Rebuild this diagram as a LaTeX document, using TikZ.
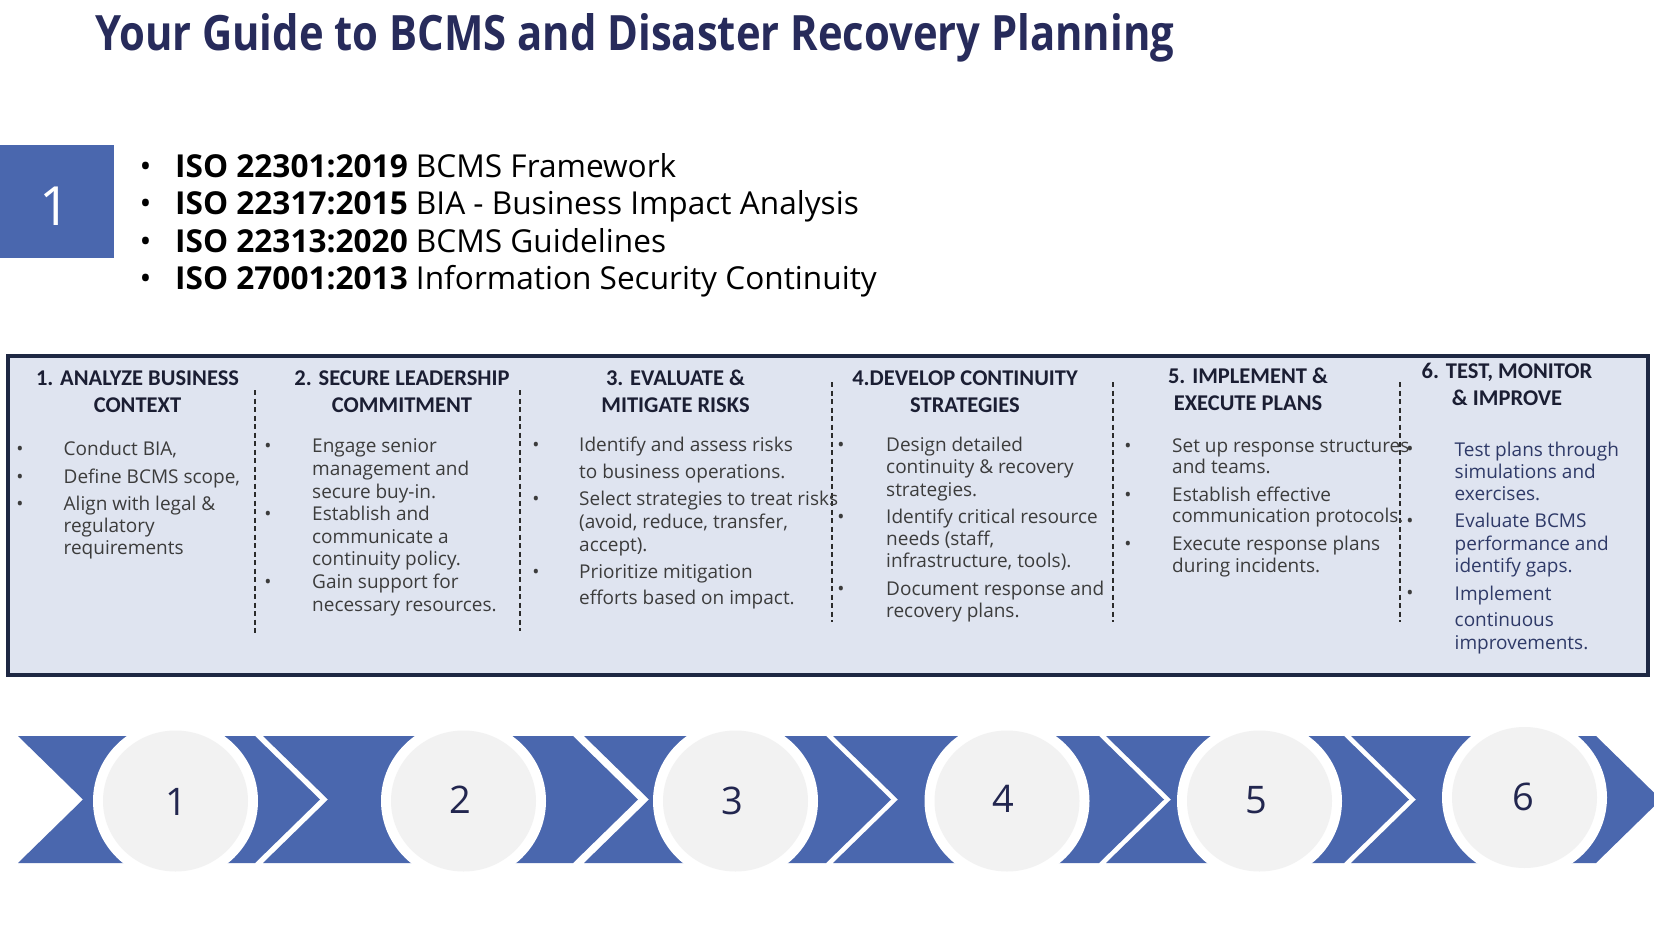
\documentclass[tikz,border=0pt]{standalone}
\usepackage{fontspec}
\usepackage{graphicx}
\setmainfont{Open Sans}
\newfontfamily\hdfont{Carlito}
\definecolor{navy}{HTML}{272B5B}
\definecolor{chev}{HTML}{4A67AE}
\definecolor{boxfill}{HTML}{DFE4F0}
\definecolor{boxline}{HTML}{1E2843}
\definecolor{bodytxt}{HTML}{3C3C3C}
\definecolor{colsix}{HTML}{2F3A68}
\definecolor{hdtxt}{HTML}{1B1E33}
\definecolor{circfill}{HTML}{F2F2F2}
\definecolor{digit}{HTML}{22264F}
\definecolor{divline}{HTML}{2B2B2B}
\tikzset{
  body/.style={anchor=base west, inner sep=0pt, font=\fontsize{19}{22}\selectfont, text=bodytxt},
  bul/.style={anchor=base, inner sep=0pt, font=\fontsize{19}{22}\selectfont, text=bodytxt},
  hd/.style={anchor=base, inner sep=0pt, align=center, font=\hdfont\bfseries\fontsize{22.5}{26.8}\selectfont, text=hdtxt},
  divider/.style={draw=divline, line width=1.8pt, dash pattern=on 5pt off 3.5pt},
  isoline/.style={anchor=base west, inner sep=0pt, font=\fontsize{31.6}{37}\selectfont, text=black},
  isobul/.style={anchor=base, inner sep=0pt, font=\fontsize{31.6}{37}\selectfont, text=black},
  chevron/.style={fill=chev},
  ring/.style={fill=white},
  disc/.style={fill=circfill},
  digitnode/.style={anchor=center, inner sep=0pt, font=\fontsize{38}{40}\selectfont, text=digit}
}
\begin{document}
\begin{tikzpicture}[x=1pt,y=-1pt]
\clip (0,0) rectangle (1654,931);
\fill[white] (0,0) rectangle (1654,931);

% title
\node[anchor=base west, inner sep=0pt, text=navy] (title) at (95,50.5)
  {\resizebox{1079pt}{\height}{\fontsize{48.7}{52}\selectfont\bfseries Your Guide to BCMS and Disaster Recovery Planning}};

% blue square
\fill[chev] (0,145) rectangle (114,258);
\node[anchor=center, inner sep=0pt, text=white, font=\fontsize{54}{56}\selectfont] (sq) at (55,206) {1};

% ISO list
\node[isobul] (ib1) at (145.6,177.5) {•};
\node[isoline] (i1) at (175,177.5) {\textbf{ISO 22301:2019} BCMS Framework};
\node[isobul] (ib2) at (145.6,214.5) {•};
\node[isoline] (i2) at (175,214.5) {\textbf{ISO 22317:2015} BIA - Business Impact Analysis};
\node[isobul] (ib3) at (145.6,252) {•};
\node[isoline] (i3) at (175,252) {\textbf{ISO 22313:2020} BCMS Guidelines};
\node[isobul] (ib4) at (145.6,289) {•};
\node[isoline] (i4) at (175,289) {\textbf{ISO 27001:2013} Information Security Continuity};

% main box
\draw[fill=boxfill, draw=boxline, line width=4pt] (7.5,355.5) rectangle (1647.5,675);

% dividers
\coordinate (d1a) at (255,390); \coordinate (d1b) at (255,633);
\coordinate (d2a) at (520,390); \coordinate (d2b) at (520,631);
\coordinate (d3a) at (832,382); \coordinate (d3b) at (832,622);
\coordinate (d4a) at (1113,382); \coordinate (d4b) at (1113,622);
\coordinate (d5a) at (1400,382); \coordinate (d5b) at (1400,622);
\draw[divider] (d1a) -- (d1b);
\draw[divider] (d2a) -- (d2b);
\draw[divider] (d3a) -- (d3b);
\draw[divider] (d4a) -- (d4b);
\draw[divider] (d5a) -- (d5b);

% headers (anchor = baseline of the last line)
\node[hd] (h1) at (137.5,412) {1. ANALYZE BUSINESS\\CONTEXT};
\node[hd] (h2) at (402,412) {2. SECURE LEADERSHIP\\COMMITMENT};
\node[hd] (h3) at (675.5,412) {3. EVALUATE \&\\MITIGATE RISKS};
\node[hd] (h4) at (965,412) {4.DEVELOP CONTINUITY\\STRATEGIES};
\node[hd] (h5) at (1248,410.5) {5. IMPLEMENT \&\\EXECUTE PLANS};
\node[hd] (h6) at (1507,405.5) {6. TEST, MONITOR\\\& IMPROVE};

% column 1
\node[bul] (b11) at (20,455) {•};
\node[bul] (b12) at (20,483) {•};
\node[bul] (b13) at (20,510) {•};
\node[body] (t11) at (63.5,455) {Conduct BIA,};
\node[body] (t12) at (63.5,483) {Define BCMS scope,};
\node[body] (t13) at (63.5,510) {Align with legal \&};
\node[body] (t14) at (63.5,532) {regulatory};
\node[body] (t15) at (63.5,554.5) {requirements};

% column 2
\node[bul] (b21) at (268,452) {•};
\node[bul] (b22) at (268,520.5) {•};
\node[bul] (b23) at (268,588) {•};
\node[body] (t21) at (312,452) {Engage senior};
\node[body] (t22) at (312,475) {management and};
\node[body] (t23) at (312,498) {secure buy-in.};
\node[body] (t24) at (312,520.5) {Establish and};
\node[body] (t25) at (312,543) {communicate a};
\node[body] (t26) at (312,565.5) {continuity policy.};
\node[body] (t27) at (312,588) {Gain support for};
\node[body] (t28) at (312,611) {necessary resources.};

% column 3
\node[bul] (b31) at (536,451.5) {•};
\node[bul] (b32) at (536,505) {•};
\node[bul] (b33) at (536,578) {•};
\node[body] (t31) at (579,451.5) {Identify and assess risks};
\node[body] (t32) at (579,478.5) {to business operations.};
\node[body] (t33) at (579,505) {Select strategies to treat risks};
\node[body] (t34) at (579,528.5) {(avoid, reduce, transfer,};
\node[body] (t35) at (579,551) {accept).};
\node[body] (t36) at (579,578) {Prioritize mitigation};
\node[body] (t37) at (579,604) {efforts based on impact.};

% column 4
\node[bul] (b41) at (841,451.5) {•};
\node[bul] (b42) at (841,523.5) {•};
\node[bul] (b43) at (841,595) {•};
\node[body] (t41) at (886,451.5) {Design detailed};
\node[body] (t42) at (886,473.5) {continuity \& recovery};
\node[body] (t43) at (886,496) {strategies.};
\node[body] (t44) at (886,523.5) {Identify critical resource};
\node[body] (t45) at (886,545) {needs (staff,};
\node[body] (t46) at (886,567.5) {infrastructure, tools).};
\node[body] (t47) at (886,595) {Document response and};
\node[body] (t48) at (886,617.5) {recovery plans.};

% column 5
\node[bul] (b51) at (1128,452) {•};
\node[bul] (b52) at (1128,501) {•};
\node[bul] (b53) at (1128,550) {•};
\node[body] (t51) at (1172,452) {Set up response structures};
\node[body] (t52) at (1172,473) {and teams.};
\node[body] (t53) at (1172,501) {Establish effective};
\node[body] (t54) at (1172,522.5) {communication protocols.};
\node[body] (t55) at (1172,550) {Execute response plans};
\node[body] (t56) at (1172,572) {during incidents.};

% column 6
\node[bul] (b61) at (1410,455) {•};
\node[bul] (b62) at (1410,527.5) {•};
\node[bul] (b63) at (1410,599) {•};
\node[body, text=colsix] (t61) at (1454.5,456) {Test plans through};
\node[body, text=colsix] (t62) at (1454.5,478.5) {simulations and};
\node[body, text=colsix] (t63) at (1454.5,500) {exercises.};
\node[body, text=colsix] (t64) at (1454.5,527.5) {Evaluate BCMS};
\node[body, text=colsix] (t65) at (1454.5,550) {performance and};
\node[body, text=colsix] (t66) at (1454.5,572.5) {identify gaps.};
\node[body, text=colsix] (t67) at (1454.5,600) {Implement};
\node[body, text=colsix] (t68) at (1454.5,626.5) {continuous};
\node[body, text=colsix] (t69) at (1454.5,649) {improvements.};

% chevrons
\fill[chevron] (18,736) -- (255,736) -- (320,799.5) -- (255,863) -- (18,863) -- (83,799.5) -- cycle;
\fill[chevron] (263,736) -- (573,736) -- (638,799.5) -- (573,863) -- (263,863) -- (328,799.5) -- cycle;
\fill[chevron] (584,736) -- (826,736) -- (891,799.5) -- (826,863) -- (584,863) -- (649,799.5) -- cycle;
\fill[chevron] (833,736) -- (1099,736) -- (1164,799.5) -- (1099,863) -- (833,863) -- (898,799.5) -- cycle;
\fill[chevron] (1106,736) -- (1344,736) -- (1409,799.5) -- (1344,863) -- (1106,863) -- (1171,799.5) -- cycle;
\fill[chevron] (1351,736) -- (1596,736) -- (1661,799.5) -- (1596,863) -- (1351,863) -- (1416,799.5) -- cycle;

% circles
\foreach \cx/\cy in {175.5/801, 463.5/801, 735.5/801, 1007/801, 1259.5/801, 1524.5/797.5}{
  \fill[ring] (\cx,\cy) ellipse [x radius=82.5, y radius=80.5];
  \fill[disc] (\cx,\cy) ellipse [x radius=72.5, y radius=70.5];
}
\node[digitnode] (n1) at (176,802) {1};
\node[digitnode] (n2) at (460,800) {2};
\node[digitnode] (n3) at (732,800.5) {3};
\node[digitnode] (n4) at (1003,799) {4};
\node[digitnode] (n5) at (1256,800) {5};
\node[digitnode] (n6) at (1523,796.5) {6};
\end{tikzpicture}
\end{document}
